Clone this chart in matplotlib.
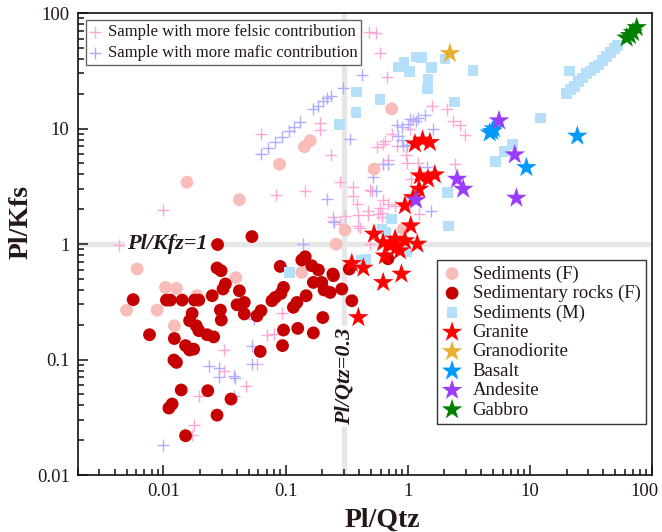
import numpy as np
import matplotlib
matplotlib.use("Agg")
import matplotlib.pyplot as plt
from matplotlib.ticker import LogLocator, FuncFormatter, NullFormatter
from matplotlib.transforms import ScaledTranslation

plt.rcParams['font.family'] = ['Liberation Serif', 'DejaVu Serif']

# ---- data (Pl/Qtz, Pl/Kfs) ----
felsic_x = [0.48, 0.55, 0.59, 0.68, 0.19, 0.19, 0.063, 0.236, 0.145, 0.084,
            0.28, 0.36, 0.357, 0.383, 0.49, 0.47, 0.477, 0.395, 0.575, 0.632,
            0.694, 0.74, 0.632, 0.561, 0.813, 1.04, 1.11, 0.247, 0.307, 0.28,
            0.787, 0.632, 1.57, 2.09, 2.35, 2.66, 2.94, 0.652, 0.968, 0.98,
            2.43, 1.22, 1.06, 0.594, 0.508, 0.613, 1.24, 0.408, 0.492, 0.694,
            0.244, 0.395, 0.613, 0.0099, 0.0043, 0.0935, 0.0316, 0.0709, 0.0798, 0.0587,
            0.0316, 0.0478, 0.0197, 0.0177, 0.017]
felsic_y = [69, 67, 45, 28, 11.1, 9.7, 8.9, 5.9, 2.9, 2.67,
            3.43, 3.1, 2.59, 2.22, 2.91, 1.95, 1.77, 1.77, 1.83, 4.96,
            5.29, 8.96, 7.38, 6.96, 7.1, 9.96, 11.75, 1.71, 1.74, 1.5,
            2.15, 2.39, 15.7, 14.8, 11.7, 10.7, 8.84, 7.84, 5.93, 4.99,
            4.93, 5.01, 3.65, 2.07, 2.89, 1.7, 1.82, 1.39, 1.0, 2.22,
            1.59, 1.44, 1.86, 1.96, 0.99, 0.251, 0.122, 0.164, 0.166, 0.0914,
            0.0795, 0.0587, 0.0481, 0.0273, 0.0223]

mafic_x = [0.0633, 0.0722, 0.0824, 0.094, 0.106, 0.118, 0.132, 0.169, 0.185, 0.201,
           0.219, 0.234, 0.293, 0.423, 0.34, 0.218, 0.251, 0.518, 0.625, 0.694,
           0.813, 0.898, 1.01, 1.04, 1.18, 1.22, 1.38, 1.62, 0.893, 0.98,
           0.838, 0.92, 1.43, 0.551, 1.55, 0.14, 0.0529, 0.0548, 0.0529, 0.0235,
           0.0287, 0.0287, 0.0376, 0.0388, 0.0376, 0.00987]
mafic_y = [5.99, 6.75, 7.61, 8.49, 9.48, 10.4, 11.3, 14.7, 15.8, 17.2,
           18.3, 19.3, 22.3, 29.2, 8.08, 2.47, 1.54, 3.79, 4.96, 4.93,
           10.7, 10.4, 10.85, 12.1, 11.7, 12.3, 13.2, 9.9, 7.89, 7.14,
           8.66, 7.1, 4.6, 2.89, 1.94, 1.0, 0.1316, 0.224, 0.091, 0.0884,
           0.0849, 0.07, 0.0717, 0.0689, 0.0479, 0.0183]

sedF_x = [0.0156, 0.0419, 0.0893, 0.143, 0.159, 0.531, 0.74, 0.307, 0.26, 0.92,
          0.0061, 0.0104, 0.0128, 0.005, 0.0089, 0.0123, 0.0188, 0.0392, 0.136]
sedF_y = [3.43, 2.42, 4.91, 6.95, 7.84, 4.46, 14.8, 1.32, 0.996, 1.35,
          0.608, 0.421, 0.414, 0.267, 0.268, 0.196, 0.357, 0.511, 0.568]

rockF_x = [0.0531, 0.0278, 0.0275, 0.0297, 0.0322, 0.0308, 0.0419, 0.00566, 0.0106, 0.0114,
           0.01425, 0.018, 0.0195, 0.0251, 0.0293, 0.0298, 0.0401, 0.046, 0.046, 0.0584,
           0.063, 0.0172, 0.0164, 0.0186, 0.0195, 0.0228, 0.0258, 0.0077, 0.0123, 0.0152,
           0.0164, 0.0177, 0.0122, 0.0128, 0.0621, 0.014, 0.0231, 0.0358, 0.0118, 0.0111,
           0.0275, 0.0152, 0.145, 0.136, 0.164, 0.186, 0.0905, 0.244, 0.169, 0.198,
           0.207, 0.232, 0.289, 0.333, 0.349, 0.0963, 0.0917, 0.0824, 0.0774, 0.1476,
           0.124, 0.116, 0.202, 0.0963, 0.126, 0.169, 0.0945, 0.247, 0.69]
rockF_y = [1.16, 0.99, 0.62, 0.587, 0.451, 0.408, 0.394, 0.33, 0.327, 0.327,
           0.327, 0.327, 0.327, 0.357, 0.268, 0.22, 0.298, 0.312, 0.248, 0.239,
           0.265, 0.251, 0.217, 0.196, 0.178, 0.164, 0.157, 0.164, 0.152, 0.132,
           0.121, 0.123, 0.099, 0.0944, 0.1175, 0.0545, 0.0537, 0.0455, 0.0412, 0.038,
           0.033, 0.0219, 0.776, 0.727, 0.649, 0.596, 0.64, 0.55, 0.465, 0.465,
           0.40, 0.381, 0.408, 0.607, 0.323, 0.421, 0.373, 0.345, 0.323, 0.357,
           0.312, 0.283, 0.231, 0.18, 0.186, 0.17, 0.132, 0.532, 0.746]

sedM_x = [0.383, 0.378, 0.276, 0.594, 0.838, 0.933, 1.03, 1.18, 1.30, 1.57,
          1.47, 1.45, 2.02, 3.44, 2.43, 7.21, 6.24, 5.26, 12.2, 21.2,
          19.9, 21.6, 23.3, 25.1, 27.0, 29.2, 31.5, 33.9, 36.6, 39.4,
          42.5, 45.8, 49.4, 52.3, 2.11, 2.15, 0.74, 0.617, 0.665, 0.99,
          0.456, 0.421, 0.108]
sedM_y = [20.8, 13.8, 10.8, 17.8, 34.0, 37.1, 31.0, 41.6, 41.3, 33.8,
          26.8, 22.0, 40.0, 31.7, 16.9, 7.31, 6.3, 5.19, 12.3, 31.5,
          20.0, 21.7, 23.2, 25.4, 27.5, 29.8, 31.6, 33.6, 35.6, 38.6,
          41.9, 45.3, 49.1, 52.1, 2.8, 1.43, 1.65, 1.35, 1.26, 0.858,
          0.741, 0.717, 0.565]

granite_x = [1.147, 1.326, 1.52, 1.26, 1.47, 1.67, 1.24, 1.11, 0.95, 1.06,
             0.53, 0.63, 0.79, 0.95, 1.20, 0.81, 0.65, 0.89, 0.63, 0.349,
             0.434, 0.395, 0.72, 0.865]
granite_y = [7.38, 7.95, 7.58, 3.9, 3.65, 3.98, 2.99, 2.53, 2.15, 1.44,
             1.22, 1.03, 1.105, 1.07, 1.0, 0.935, 0.79, 0.55, 0.465, 0.68,
             0.62, 0.231, 0.97, 0.875]

granodiorite_x = [2.22]
granodiorite_y = [44.7]

basalt_x = [4.93, 4.70, 5.07, 9.38, 24.5]
basalt_y = [9.48, 9.19, 9.97, 4.6, 8.61]

andesite_x = [5.6, 7.53, 2.54, 2.85, 7.77, 1.17]
andesite_y = [11.7, 5.93, 3.65, 2.99, 2.5, 2.4]

gabbro_x = [62, 66, 70, 75]
gabbro_y = [61, 64, 68, 75]

x_ticks = [0.01, 0.1, 1, 10, 100]
y_ticks = [0.01, 0.1, 1, 10, 100]

ink = '#231815'

fig = plt.figure(figsize=(6.62, 5.32), dpi=100)
ax = fig.add_axes([0.1178, 0.1071, 0.867, 0.8684])
ax.set_xscale('log')
ax.set_yscale('log')
ax.set_xlim(0.002, 100)
ax.set_ylim(0.01, 100)

# reference lines
ax.axvline(0.3, color='#e6e6e6', lw=3.8, zorder=0)
ax.axhline(1, color='#e6e6e6', lw=3.8, zorder=0)
txt = dict(fontsize=16, fontweight='bold', style='italic', color=ink,
           ha='center', va='center', zorder=1,
           bbox=dict(facecolor='white', edgecolor='none', pad=1.5))
ax.text(0.0108, 1.0, 'Pl/Kfz=1', **txt)
ax.text(0.305, 0.071, 'Pl/Qtz=0.3', rotation=90, **txt)

h_fel = ax.scatter(felsic_x, felsic_y, marker='+', s=75, linewidths=1.0,
                   color='#ffa8d4', zorder=2, label='Sample with more felsic contribution')
h_maf = ax.scatter(mafic_x, mafic_y, marker='+', s=75, linewidths=1.0,
                   color='#aeaeff', zorder=2, label='Sample with more mafic contribution')
h1 = ax.scatter(sedF_x, sedF_y, marker='o', s=85, color='#f9bcb9', edgecolors='none',
                zorder=3, label='Sediments (F)')
h2 = ax.scatter(rockF_x, rockF_y, marker='o', s=85, color='#c40000', edgecolors='none',
                zorder=3, label='Sedimentary rocks (F)')
h3 = ax.scatter(sedM_x, sedM_y, marker='s', s=58, color='#b6e0f9', edgecolors='none',
                zorder=3, label='Sediments (M)')
star = dict(marker='*', s=240, edgecolors='none', zorder=4)
h4 = ax.scatter(granite_x, granite_y, color='#ff0000', label='Granite', **star)
h5 = ax.scatter(granodiorite_x, granodiorite_y, color='#e6b033', label='Granodiorite', **star)
h6 = ax.scatter(basalt_x, basalt_y, color='#0099ff', label='Basalt', **star)
h7 = ax.scatter(andesite_x, andesite_y, color='#9b3dff', label='Andesite', **star)
h8 = ax.scatter(gabbro_x, gabbro_y, color='#008000', label='Gabbro', **star)

# axes styling
for side in ['top', 'right', 'bottom', 'left']:
    ax.spines[side].set_linewidth(1.2)
    ax.spines[side].set_color('#111111')
ax.xaxis.set_minor_locator(LogLocator(base=10, subs=np.arange(2, 10), numticks=20))
ax.yaxis.set_minor_locator(LogLocator(base=10, subs=np.arange(2, 10), numticks=20))
ax.xaxis.set_minor_formatter(NullFormatter())
ax.yaxis.set_minor_formatter(NullFormatter())
fmt = FuncFormatter(lambda v, p: ('%g' % v))
ax.set_xticks(x_ticks)
ax.set_yticks(y_ticks)
ax.xaxis.set_major_formatter(fmt)
ax.yaxis.set_major_formatter(fmt)
ax.tick_params(which='both', direction='in', top=False, right=False,
               labelsize=13.5, labelcolor=ink, color='#111111', width=1.1)
ax.tick_params(which='major', length=7, pad=6)
ax.tick_params(which='minor', length=4)

# the last x label sits a little to the left so it stays inside the figure
last = ax.xaxis.get_major_ticks()[-1].label1
last.set_transform(last.get_transform() + ScaledTranslation(-0.07, 0, fig.dpi_scale_trans))

ax.set_xlabel('Pl/Qtz', fontsize=20, fontweight='bold', color=ink)
ax.set_ylabel('Pl/Kfs', fontsize=20, fontweight='bold', color=ink)
ax.xaxis.set_label_coords(0.531, -0.07)
ax.yaxis.set_label_coords(-0.078, 0.548)

leg1 = ax.legend(handles=[h_fel, h_maf], loc='upper left', bbox_to_anchor=(0.014, 0.985),
                 borderaxespad=0, fontsize=12, frameon=True, fancybox=False,
                 edgecolor='#666666', framealpha=1, handlelength=0.6, handletextpad=0.45,
                 labelspacing=0.3, borderpad=0.25, scatterpoints=1)
leg1.get_frame().set_linewidth(1.0)
for t in leg1.get_texts():
    t.set_color(ink)
ax.add_artist(leg1)

leg2 = ax.legend(handles=[h1, h2, h3, h4, h5, h6, h7, h8], loc='lower right',
                 bbox_to_anchor=(0.99, 0.11), borderaxespad=0, fontsize=13.5,
                 frameon=True, fancybox=False, edgecolor='#333333', framealpha=1,
                 handlelength=1.0, handletextpad=0.6, labelspacing=0.12,
                 borderpad=0.3, scatterpoints=1)
leg2.get_frame().set_linewidth(1.0)
for t in leg2.get_texts():
    t.set_color(ink)

fig.savefig('out.png', dpi=100)
